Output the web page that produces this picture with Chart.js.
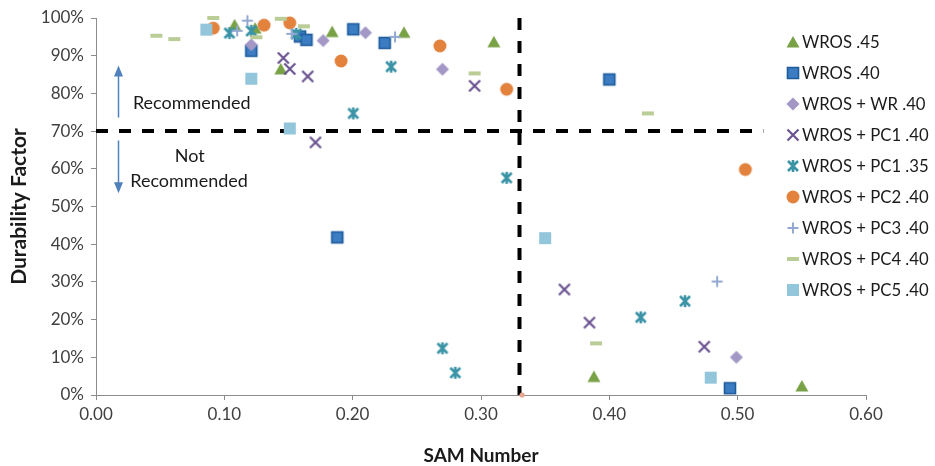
<!DOCTYPE html>
<html>
<head>
<meta charset="utf-8">
<script src="https://cdn.jsdelivr.net/npm/chart.js@4.4.1/dist/chart.umd.min.js"></script>
<style>
  html, body { margin: 0; padding: 0; background: #ffffff; }
  #wrap { width: 935px; height: 466px; position: relative; }
</style>
</head>
<body>
<div id="wrap"><canvas id="c" width="935" height="466"></canvas></div>
<script>
// SAM number (x) against durability factor in percent (y), one pair of arrays per mix
const seriesNames = ['WROS .45', 'WROS .40', 'WROS + WR .40', 'WROS + PC1 .40', 'WROS + PC1 .35',
                     'WROS + PC2 .40', 'WROS + PC3 .40', 'WROS + PC4 .40', 'WROS + PC5 .40'];

const wros45Sam = [0.108, 0.124, 0.144, 0.184, 0.240, 0.310, 0.388, 0.550];
const wros45Df  = [98.2, 97.3, 86.5, 96.4, 96.2, 93.7, 4.9, 2.4];

const wros40Sam = [0.121, 0.159, 0.164, 0.188, 0.2005, 0.225, 0.400, 0.494];
const wros40Df  = [91.3, 95.1, 94.2, 41.8, 97.0, 93.4, 83.7, 1.8];

const wrSam = [0.121, 0.177, 0.210, 0.270, 0.499];
const wrDf  = [92.9, 94.0, 96.1, 86.4, 10.0];

const pc1w40Sam = [0.146, 0.151, 0.165, 0.171, 0.295, 0.365, 0.3845, 0.474];
const pc1w40Df  = [89.4, 86.5, 84.5, 67.0, 82.0, 28.0, 19.2, 12.8];

const pc1w35Sam = [0.104, 0.121, 0.156, 0.2005, 0.230, 0.270, 0.280, 0.320, 0.4245, 0.459];
const pc1w35Df  = [96.0, 96.6, 95.8, 74.7, 87.1, 12.4, 5.9, 57.6, 20.6, 24.9];

const pc2Sam = [0.0914, 0.131, 0.151, 0.191, 0.268, 0.320, 0.506];
const pc2Df  = [97.3, 98.1, 98.7, 88.6, 92.6, 81.1, 59.8];

const pc3Sam = [0.110, 0.118, 0.1525, 0.233, 0.484];
const pc3Df  = [96.6, 99.3, 95.8, 95.0, 30.1];

const pc4Sam = [0.047, 0.061, 0.0914, 0.125, 0.144, 0.162, 0.295, 0.3897, 0.430];
const pc4Df  = [95.3, 94.4, 100.0, 94.9, 99.8, 97.8, 85.3, 13.7, 74.7];

const pc5Sam = [0.086, 0.121, 0.151, 0.350, 0.479];
const pc5Df  = [96.9, 83.9, 70.7, 41.6, 4.6];

// lone point sitting on the axis
const axisDotSam = [0.332];
const axisDotDf  = [0];

// limit lines: SAM 0.33 and DF 70 %
const samLimit = 0.33;
const dfLimit = 70;
const dfLimitEnd = 0.52;

const xTickStep = 0.1;
const yTickStep = 10;

// ---- marker images (Excel-like symbols) ----
function markerCanvas(kind, fill, stroke) {
  const s = 16, m = 8;
  const c = document.createElement('canvas');
  c.width = s; c.height = s;
  const g = c.getContext('2d');
  g.fillStyle = fill;
  g.strokeStyle = stroke || fill;
  g.lineCap = 'butt';
  g.beginPath();
  switch (kind) {
    case 'triangle':
      g.moveTo(m, m - 6); g.lineTo(m + 6.5, m + 5.5); g.lineTo(m - 6.5, m + 5.5); g.closePath();
      g.fill();
      break;
    case 'squareBorder':
      g.rect(2.5, 2.5, 11, 11);
      g.fill();
      g.lineWidth = 1.6;
      g.stroke();
      break;
    case 'square':
      g.rect(2, 2, 12, 12);
      g.fill();
      break;
    case 'diamond':
      g.moveTo(m, m - 6.5); g.lineTo(m + 6.5, m); g.lineTo(m, m + 6.5); g.lineTo(m - 6.5, m); g.closePath();
      g.fill();
      break;
    case 'x':
      g.lineWidth = 2.2;
      g.moveTo(m - 5.5, m - 5.5); g.lineTo(m + 5.5, m + 5.5);
      g.moveTo(m + 5.5, m - 5.5); g.lineTo(m - 5.5, m + 5.5);
      g.stroke();
      break;
    case 'star':
      g.lineWidth = 2.6;
      g.moveTo(m - 5, m - 5); g.lineTo(m + 5, m + 5);
      g.moveTo(m + 5, m - 5); g.lineTo(m - 5, m + 5);
      g.moveTo(m, m - 6); g.lineTo(m, m + 6);
      g.stroke();
      break;
    case 'circle':
      g.arc(m, m, 6.5, 0, Math.PI * 2);
      g.fill();
      break;
    case 'plus':
      g.lineWidth = 2;
      g.moveTo(m - 5.5, m); g.lineTo(m + 5.5, m);
      g.moveTo(m, m - 5.5); g.lineTo(m, m + 5.5);
      g.stroke();
      break;
    case 'dash':
      g.rect(m - 6, m - 2, 12, 4);
      g.fill();
      break;
  }
  return c;
}

const markers = [
  markerCanvas('triangle', '#79A146'),
  markerCanvas('squareBorder', '#3B7CC2', '#1E5B9B'),
  markerCanvas('diamond', '#A397C6'),
  markerCanvas('x', '#6A5391'),
  markerCanvas('star', '#3B93A6'),
  markerCanvas('circle', '#E3823D'),
  markerCanvas('plus', '#93A9D2'),
  markerCanvas('dash', '#BACD96'),
  markerCanvas('square', '#93C6DB')
];

const pairs = [
  [wros45Sam, wros45Df], [wros40Sam, wros40Df], [wrSam, wrDf],
  [pc1w40Sam, pc1w40Df], [pc1w35Sam, pc1w35Df], [pc2Sam, pc2Df],
  [pc3Sam, pc3Df], [pc4Sam, pc4Df], [pc5Sam, pc5Df]
];

const toPoints = (xs, ys) => xs.map((x, i) => ({ x: x, y: ys[i] }));

const datasets = pairs.map((p, i) => ({
  label: seriesNames[i],
  data: toPoints(p[0], p[1]),
  pointStyle: markers[i],
  pointRadius: 7,
  pointHoverRadius: 7,
  showLine: false,
  clip: false,
  order: 20 - i
}));

datasets.push({
  label: '',
  data: toPoints(axisDotSam, axisDotDf),
  pointStyle: 'circle',
  pointRadius: 2.6,
  backgroundColor: '#E9A38E',
  borderColor: '#E9A38E',
  borderWidth: 0,
  showLine: false,
  clip: false,
  order: 5
});

datasets.push({
  label: '',
  data: [{ x: samLimit, y: 100 }, { x: samLimit, y: 0 }],
  showLine: true,
  pointRadius: 0,
  borderColor: '#000000',
  borderWidth: 4,
  borderDash: [12, 11],
  clip: false,
  order: 100
});

datasets.push({
  label: '',
  data: [{ x: 0, y: dfLimit }, { x: dfLimitEnd, y: dfLimit }],
  showLine: true,
  pointRadius: 0,
  borderColor: '#000000',
  borderWidth: 4,
  borderDash: [12, 11],
  clip: false,
  order: 101
});

const FONT = 'Lato, "Open Sans", "DejaVu Sans", sans-serif';

// side notes with arrows on the left of the plot
const notesPlugin = {
  id: 'notes',
  afterDatasetsDraw(chart) {
    const ctx = chart.ctx, xs = chart.scales.x, ys = chart.scales.y;
    ctx.save();
    ctx.fillStyle = '#1a1a1a';
    ctx.font = '18px ' + FONT;
    ctx.textAlign = 'center';
    ctx.textBaseline = 'middle';
    ctx.fillText('Recommended', xs.getPixelForValue(0.0746), ys.getPixelForValue(77.4));
    ctx.fillText('Not', xs.getPixelForValue(0.073), ys.getPixelForValue(63.3));
    ctx.fillText('Recommended', xs.getPixelForValue(0.0725), ys.getPixelForValue(56.6));

    const ax = Math.round(xs.getPixelForValue(0.0174)) + 0.5;
    const arrow = (yFrom, yTo) => {
      const y0 = ys.getPixelForValue(yFrom), y1 = ys.getPixelForValue(yTo);
      const dir = y1 < y0 ? -1 : 1;
      ctx.strokeStyle = '#4F81BD';
      ctx.fillStyle = '#4F81BD';
      ctx.lineWidth = 1.5;
      ctx.beginPath();
      ctx.moveTo(ax, y0);
      ctx.lineTo(ax, y1 - dir * 9);
      ctx.stroke();
      ctx.beginPath();
      ctx.moveTo(ax, y1);
      ctx.lineTo(ax - 4.5, y1 - dir * 11);
      ctx.lineTo(ax + 4.5, y1 - dir * 11);
      ctx.closePath();
      ctx.fill();
    };
    arrow(73.6, 87.4);
    arrow(67.5, 53.5);
    ctx.restore();
  }
};

// legend inside the plot, right side
const legendPlugin = {
  id: 'sideLegend',
  afterDraw(chart) {
    const ctx = chart.ctx;
    ctx.save();
    ctx.font = '16.7px ' + FONT;
    ctx.fillStyle = '#1a1a1a';
    ctx.textAlign = 'left';
    ctx.textBaseline = 'middle';
    const mx = 793, tx = 802, y0 = 42, dy = 30.95;
    seriesNames.forEach((name, i) => {
      const y = y0 + i * dy;
      const img = markers[i];
      ctx.drawImage(img, Math.round(mx - img.width / 2), Math.round(y - img.height / 2));
      ctx.fillText(name, tx, y + 1);
    });
    ctx.restore();
  }
};

const axisGrey = '#8C8C8C';

new Chart(document.getElementById('c'), {
  type: 'scatter',
  data: { datasets: datasets },
  options: {
    responsive: false,
    animation: false,
    events: [],
    layout: { padding: { top: 18, right: 69, left: 0, bottom: 0 } },
    plugins: {
      legend: { display: false },
      tooltip: { enabled: false }
    },
    scales: {
      x: {
        type: 'linear',
        min: 0,
        max: 0.6,
        afterFit(scale) { scale.height = 71; },
        ticks: {
          stepSize: xTickStep,
          callback: v => Number(v).toFixed(2),
          font: { family: FONT, size: 17 },
          color: '#404040',
          padding: 4
        },
        grid: { drawOnChartArea: false, drawTicks: true, tickLength: 5, color: axisGrey },
        border: { display: true, color: axisGrey, width: 1 },
        title: {
          display: true,
          text: 'SAM Number',
          font: { family: FONT, size: 19, weight: 'bold', lineHeight: 1 },
          color: '#1a1a1a',
          padding: { top: 0, bottom: 1 }
        }
      },
      y: {
        type: 'linear',
        min: 0,
        max: 100,
        afterFit(scale) { scale.width = 96; },
        ticks: {
          stepSize: yTickStep,
          callback: v => v + '%',
          font: { family: FONT, size: 17 },
          color: '#404040',
          padding: 7
        },
        grid: { drawOnChartArea: false, drawTicks: true, tickLength: 5, color: axisGrey },
        border: { display: true, color: axisGrey, width: 1 },
        title: {
          display: true,
          text: 'Durability Factor',
          font: { family: FONT, size: 21, weight: 'bold', lineHeight: 1 },
          color: '#1a1a1a',
          padding: { top: 9, bottom: 0 }
        }
      }
    }
  },
  plugins: [notesPlugin, legendPlugin]
});
</script>
</body>
</html>
